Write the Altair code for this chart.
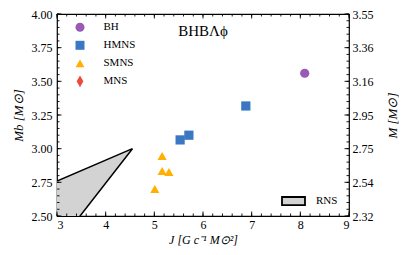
import altair as alt
import pandas as pd
import numpy as np

# ---- data ----
categories = ["BH", "HMNS", "SMNS", "MNS"]
cat_colors = ["#9b59b6", "#3b78c3", "#ffb000", "#e74c3c"]
cat_shapes = ["circle", "square", "triangle-up", "M0,-1.3L0.75,0L0,1.3L-0.75,0Z"]

pt_type = ["BH", "HMNS", "HMNS", "HMNS", "SMNS", "SMNS", "SMNS", "SMNS"]
pt_J = [8.09, 6.88, 5.53, 5.71, 5.16, 5.16, 5.30, 5.01]
pt_Mb = [3.56, 3.317, 3.065, 3.10, 2.946, 2.835, 2.827, 2.70]

rns_J = [3.0, 4.55]
rns_upper = [2.76, 3.0]
rns_lower = [2.28, 3.0]
rns_edge_J = [3.0, 4.55, 3.0]
rns_edge_Mb = [2.76, 3.0, 2.28]

x_major = [3, 4, 5, 6, 7, 8, 9]
y_major = [2.5, 2.75, 3.0, 3.25, 3.5, 3.75, 4.0]
m_labels = ["2.32", "2.54", "2.75", "2.95", "3.16", "3.36", "3.55"]

W, H = 292, 202
FONT = "Liberation Serif"
MAJ, MIN = 4.5, 2.5

xsc = alt.Scale(domain=[3, 9], nice=False, zero=False)
ysc = alt.Scale(domain=[2.5, 4.0], nice=False, zero=False)

x_minor = [round(v, 2) for v in np.arange(3.0, 9.0001, 0.2)]
y_minor = [round(v, 2) for v in np.arange(2.5, 4.0001, 0.05)]

xaxis = alt.Axis(title="J  [G c⁻¹ M⊙²]", values=x_major, format="d", ticks=False,
                 domain=False, grid=False, labelPadding=3, titleX=W / 2, titleY=23.5,
                 titleAlign="center", titleBaseline="middle", titleFontStyle="italic",
                 titleFontSize=12)

pts = pd.DataFrame({"type": pt_type, "J": pt_J, "Mb": pt_Mb})
area_df = pd.DataFrame({"J": rns_J, "up": rns_upper, "lo": rns_lower, "kind": ["RNS", "RNS"]})
edge_df = pd.DataFrame({"J": rns_edge_J, "Mb": rns_edge_Mb, "o": [0, 1, 2]})

area = alt.Chart(area_df).mark_area(clip=True, opacity=1).encode(
    x=alt.X("J:Q", scale=xsc, axis=xaxis),
    y=alt.Y("up:Q", scale=ysc,
            axis=alt.Axis(title="Mb [M⊙]", values=y_major, format=".2f", ticks=False,
                          domain=False, grid=False, labelPadding=5, titleX=-39, titleY=H / 2,
                          titleAngle=270, titleAlign="center", titleBaseline="middle",
                          titleFontStyle="italic")),
    y2="lo:Q",
    fill=alt.Fill("kind:N", scale=alt.Scale(domain=["RNS"], range=["#d3d3d3"]),
                  legend=alt.Legend(orient="none", legendX=224, legendY=174.5, title=None,
                                    padding=0, symbolType="M-1,-0.35L1,-0.35L1,0.35L-1,0.35Z",
                                    symbolSize=529, symbolStrokeColor="black",
                                    symbolStrokeWidth=1.8, symbolFillColor="#d3d3d3",
                                    labelOffset=10, labelFont=FONT, labelFontSize=11,
                                    labelColor="black")),
)

edges = alt.Chart(edge_df).mark_line(clip=True, color="black", strokeWidth=1.5).encode(
    x=alt.X("J:Q", scale=xsc, axis=xaxis),
    y=alt.Y("Mb:Q", scale=ysc, axis=None),
    order="o:Q",
)


def xticks(vals, length):
    d = pd.DataFrame({"v": vals})
    bot = alt.Chart(d).mark_rule(color="black", strokeWidth=0.9).encode(
        x=alt.X("v:Q", scale=xsc, axis=xaxis), y=alt.value(H), y2=alt.value(H - length))
    top = alt.Chart(d).mark_rule(color="black", strokeWidth=0.9).encode(
        x=alt.X("v:Q", scale=xsc, axis=xaxis), y=alt.value(0), y2=alt.value(length))
    return [bot, top]


def yticks(vals, length):
    d = pd.DataFrame({"v": vals})
    left = alt.Chart(d).mark_rule(color="black", strokeWidth=0.9).encode(
        y=alt.Y("v:Q", scale=ysc, axis=None), x=alt.value(0), x2=alt.value(length))
    right = alt.Chart(d).mark_rule(color="black", strokeWidth=0.9).encode(
        y=alt.Y("v:Q", scale=ysc, axis=None), x=alt.value(W - length), x2=alt.value(W))
    return [left, right]


ticks = xticks(x_minor, MIN) + xticks(x_major, MAJ) + yticks(y_minor, MIN) + yticks(y_major, MAJ)

leg = dict(orient="none", legendX=17.5, legendY=7.8, title=None, padding=0, symbolSize=81,
           labelFont=FONT, labelFontSize=11, labelOffset=18, rowPadding=6,
           symbolStrokeWidth=0, labelColor="black")

points = alt.Chart(pts).mark_point(filled=True, opacity=1, size=85, strokeWidth=0).encode(
    x=alt.X("J:Q", scale=xsc, axis=xaxis),
    y=alt.Y("Mb:Q", scale=ysc, axis=None),
    color=alt.Color("type:N", scale=alt.Scale(domain=categories, range=cat_colors),
                    legend=alt.Legend(**leg)),
    shape=alt.Shape("type:N", scale=alt.Scale(domain=categories, range=cat_shapes),
                    legend=alt.Legend(**leg)),
)

title = alt.Chart(alt.Data(values=[{}])).mark_text(
    text="BHBΛϕ", font=FONT, fontSize=15, color="black", align="center", baseline="middle"
).encode(x=alt.value(W / 2), y=alt.value(17))

expr = " : ".join(f"datum.value == {v} ? '{l}'" for v, l in zip(y_major, m_labels)) + " : ''"
right_df = pd.DataFrame({"v": y_major})
right_axis = alt.Chart(right_df).mark_point(opacity=0).encode(
    x=alt.value(0),
    y=alt.Y("v:Q", scale=ysc,
            axis=alt.Axis(orient="right", title="M [M⊙]", values=y_major, labelExpr=expr,
                          ticks=False, domain=False, grid=False, labelPadding=3,
                          titleX=43, titleY=H / 2, titleAngle=270, titleAlign="center",
                          titleBaseline="middle", titleFontStyle="italic")),
)

chart = alt.layer(area, edges, *ticks, points, title, right_axis).resolve_scale(
    y="independent"
).properties(
    width=W, height=H,
    autosize=alt.AutoSizeParams(type="none"),
    padding={"left": 49, "top": 6, "right": 50, "bottom": 31},
).configure_view(stroke="black", strokeWidth=1.2).configure_axis(
    labelFont=FONT, labelFontSize=12, labelColor="black",
    titleFont=FONT, titleFontSize=13, titleColor="black", titleFontWeight="normal",
).configure_legend(labelFont=FONT)

chart.save("out.html", embed_options={"renderer": "svg", "actions": False})
